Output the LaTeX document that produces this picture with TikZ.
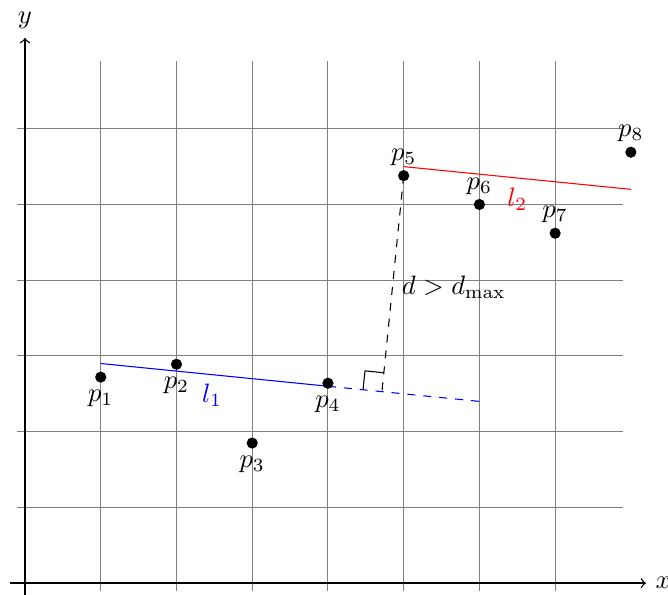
\documentclass[tikz,border=0pt]{standalone}
\usetikzlibrary{calc}
\begin{document}
\begin{tikzpicture}[x=1cm,y=1cm,
  dot/.style={circle,fill=black,inner sep=0pt,minimum size=4.2pt},
  gridline/.style={gray,line width=0.4pt},
  axisline/.style={->,line width=0.5pt}]
\useasboundingbox (-0.33,-0.155) rectangle (8.49,7.70);
\draw[gridline,step=1] (-0.1,-0.1) grid (7.9,6.9);
\draw[axisline] (-0.2,0) -- (8.2,0) node[right] (xl) {$x$};
\draw[axisline] (0,-0.2) -- (0,7.2) node[above] (yl) {$y$};
% lines
\coordinate (a1) at (1,2.9);
\coordinate (a2) at (4,2.6);
\coordinate (a3) at (6,2.4);
\draw[blue] (a1) -- (a2);
\draw[blue,dashed] (a2) -- (a3);
\coordinate (b1) at (5,5.5);
\coordinate (b2) at (8,5.2);
\draw[red] (b1) -- (b2);
% points
\node[dot,label={[yshift=1pt]below:$p_1$}] (p1) at (1,2.72) {};
\node[dot,label={[yshift=1pt]below:$p_2$}] (p2) at (2,2.89) {};
\node[dot,label={[yshift=1pt]below:$p_3$}] (p3) at (3,1.85) {};
\node[dot,label={[yshift=1pt]below:$p_4$}] (p4) at (4,2.64) {};
\node[dot,label={[yshift=-2pt]above:$p_5$}] (p5) at (5,5.38) {};
\node[dot,label={[yshift=-2pt]above:$p_6$}] (p6) at (6,5.0) {};
\node[dot,label={[yshift=-2pt]above:$p_7$}] (p7) at (7,4.62) {};
\node[dot,label={[yshift=-2pt]above:$p_8$}] (p8) at (8,5.69) {};
% perpendicular
\coordinate (f) at (4.713,2.529);
\draw[dashed] (p5.center) -- (f);
\draw ($(f)+(-0.249,0.025)$) -- ++(0.025,0.249) coordinate (m1) -- ($(f)+(0.025,0.249)$);
\node[right,inner sep=2pt] (dl) at (4.9,3.91) {$d > d_{\max}$};
\node[blue] (l1) at (2.47,2.48) {$l_1$};
\node[red] (l2) at (6.5,5.07) {$l_2$};
\end{tikzpicture}
\end{document}
